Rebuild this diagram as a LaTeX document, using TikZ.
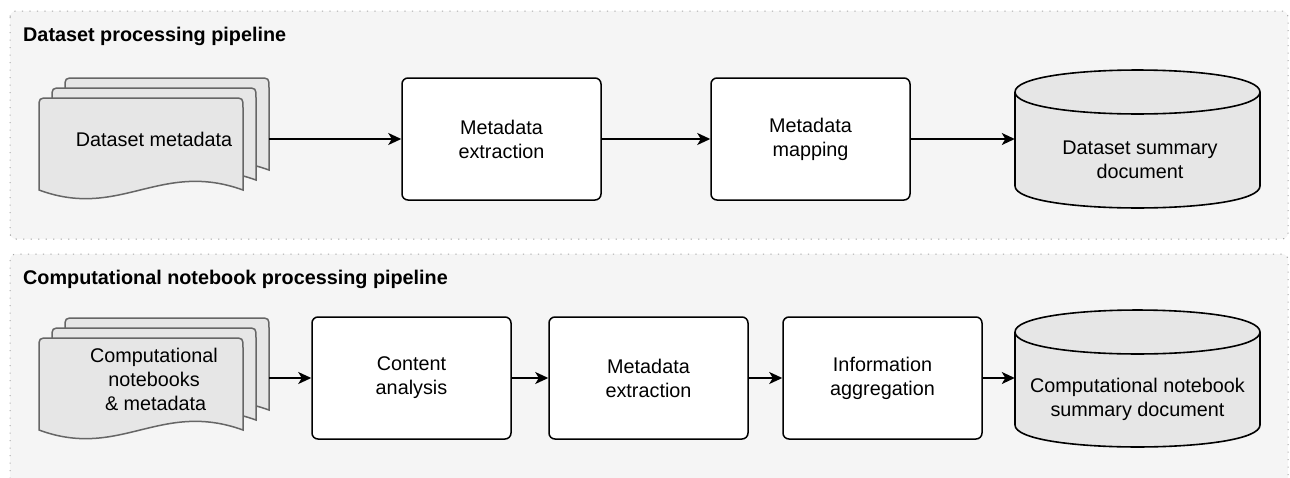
\documentclass[tikz,border=0pt]{standalone}
\usepackage{fontspec}
\setmainfont{Liberation Sans}
\usetikzlibrary{arrows.meta}
\definecolor{panelfill}{HTML}{F5F5F5}
\definecolor{panelline}{HTML}{A8A8A8}
\definecolor{docfill}{HTML}{E6E6E6}
\definecolor{docline}{HTML}{666666}
\newcommand\onedoc[2]{\path[docshape, shift={(#1,#2)}] (0,92) -- (0,10) .. controls (0,0) .. (10,0) -- (194,0) .. controls (204,0) .. (204,10) -- (204,92) .. controls (121,62) and (81,122) .. (0,92) -- cycle;}
\newcommand\docstack[2]{\onedoc{#1+26}{#2-20}\onedoc{#1+13}{#2-10}\onedoc{#1}{#2}}
\newcommand\mycyl[4]{%
  \path[cylshape] (#1,#3+22) -- (#1,#4-22) .. controls (#1,#4+7.3) and (#2,#4+7.3) .. (#2,#4-22) -- (#2,#3+22) .. controls (#2,#3-7.3) and (#1,#3-7.3) .. (#1,#3+22) -- cycle;
  \draw[cylline] (#1,#3+22) .. controls (#1,#3+51.3) and (#2,#3+51.3) .. (#2,#3+22);}
\begin{document}
\begin{tikzpicture}[x=1pt,y=-1pt,
  every node/.style={font=\fontsize{19.8pt}{24pt}\selectfont, text=black},
  paneltitle/.style={font=\fontsize{19.8pt}{24pt}\selectfont\bfseries, anchor=west, inner sep=0pt},
  panelbox/.style={fill=panelfill, draw=panelline, line width=1pt, dash pattern=on 1.2pt off 6.3pt, rounded corners=6pt},
  docshape/.style={fill=docfill, draw=docline, line width=1.5pt},
  cylshape/.style={fill=docfill, draw=black, line width=1.6pt},
  cylline/.style={draw=black, line width=1.6pt},
  procbox/.style={draw=black, fill=white, line width=1.5pt, rounded corners=6pt, minimum width=199pt, minimum height=122pt, align=center, inner sep=2pt},
  hold/.style={inner sep=0pt, align=center},
  flow/.style={draw=black, line width=1.6pt, -{Stealth[length=13pt,width=12pt,inset=3.5pt]}}]
\path[use as bounding box, clip] (0,0) rectangle (1290,477);
% panels
\path[panelbox] (10,11) rectangle (1288,239);
\path[panelbox] (10,254) rectangle (1288,500);
\node[paneltitle] (t1) at (23,36) {Dataset processing pipeline};
\node[paneltitle] (t2) at (23,279) {Computational notebook processing pipeline};
% top row
\docstack{39}{98}
\node[hold, minimum width=230pt, minimum height=120pt] (ds) at (154,139) {Dataset metadata};
\node[procbox] (me1) at (501.5,139) {Metadata\\extraction};
\node[procbox] (mm) at (810.5,139) {Metadata\\mapping};
\mycyl{1015}{1260}{70}{208}
\node[hold, minimum width=245pt, minimum height=138pt] (dsum) at (1137.5,139) {};
\node[hold] (dsumt) at (1140,160) {Dataset summary\\document};
\draw[flow] (ds.east) -- (me1.west);
\draw[flow] (me1.east) -- (mm.west);
\draw[flow] (mm.east) -- (dsum.west);
% bottom row
\docstack{39}{338}
\node[hold, minimum width=230pt, minimum height=120pt] (nb) at (154,379) {Computational\\notebooks\\\,\& metadata};
\node[procbox] (ca) at (411.5,378) {Content\\analysis};
\node[procbox] (me2) at (648.5,378) {Metadata\\extraction};
\node[procbox] (ia) at (882.5,378) {Information\\aggregation};
\mycyl{1015}{1260}{310}{447}
\node[hold, minimum width=245pt, minimum height=137pt] (nsum) at (1137.5,378) {};
\node[hold] (nsumt) at (1137.5,399) {Computational notebook\\summary document};
\draw[flow] (nb.east |- ca.west) -- (ca.west);
\draw[flow] (ca.east) -- (me2.west);
\draw[flow] (me2.east) -- (ia.west);
\draw[flow] (ia.east) -- (nsum.west);
\end{tikzpicture}
\end{document}
